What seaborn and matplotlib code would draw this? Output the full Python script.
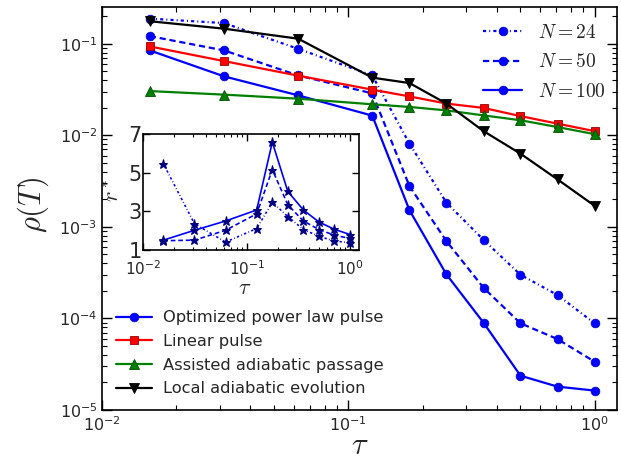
import pandas as pd
import matplotlib
matplotlib.use("Agg")
import matplotlib.pyplot as plt
import seaborn as sns

# ==========================================
# Data
# ==========================================
tau = [0.0156, 0.03125, 0.0625, 0.125, 0.177, 0.25, 0.354, 0.5, 0.707, 1.0]

# main panel: rho(T)
rho_n24 = [0.188, 0.168, 0.088, 0.045, 0.0081, 0.00184, 0.00072, 0.0003, 0.00018, 0.0000885]
rho_n50 = [0.121, 0.0845, 0.045, 0.0287, 0.00278, 0.0007, 0.000216, 0.0000885, 0.0000595, 0.0000337]
rho_n100 = [0.0845, 0.044, 0.0273, 0.0164, 0.00152, 0.000303, 0.0000897, 0.0000237, 0.000018, 0.0000163]
rho_linear = [0.0934, 0.0646, 0.0448, 0.0315, 0.0266, 0.0222, 0.0199, 0.0162, 0.0134, 0.0111]
rho_assisted = [0.0304, 0.0278, 0.0251, 0.0218, 0.0204, 0.0187, 0.0165, 0.0146, 0.0123, 0.0103]
rho_local = [0.176, 0.146, 0.1135, 0.0426, 0.0372, 0.0222, 0.0111, 0.0063, 0.0033, 0.0017]

# inset: r*
r_n24 = [5.47, 2.36, 1.41, 2.11, 3.47, 2.73, 2.06, 1.71, 1.46, 1.38]
r_n50 = [1.48, 1.51, 2.02, 2.87, 5.16, 3.34, 2.50, 2.06, 1.76, 1.60]
r_n100 = [1.51, 2.02, 2.50, 3.07, 6.58, 4.03, 3.07, 2.45, 2.07, 1.80]

n_labels = ["$N=24$", "$N=50$", "$N=100$"]
method_labels = ["Optimized power law pulse", "Linear pulse",
                 "Assisted adiabatic passage", "Local adiabatic evolution"]

# dash patterns (in units of line width)
DASHDOT = (1.4, 1.4, 0.45, 1.4)
DASHED = (2.8, 1.7)

sns.set_style("ticks", {"xtick.direction": "in", "ytick.direction": "in",
                        "axes.edgecolor": "black"})
plt.rcParams["font.family"] = ["DejaVu Sans"]


def style_ticks(ax, size):
    ax.tick_params(which="both", direction="in", top=True, right=True,
                   labelsize=size, color="black")
    ax.tick_params(which="major", length=7, width=1)
    ax.tick_params(which="minor", length=3.5, width=0.8)
    for s in ax.spines.values():
        s.set_linewidth(1.2)
        s.set_color("black")


fig = plt.figure(figsize=(6.21, 4.61), dpi=100)
ax = fig.add_axes([0.1647, 0.1106, 0.8284, 0.8736])

LW = 1.6
# blue family (optimized power law pulse, three sizes)
blue_kw = dict(color="#0000ff", marker="o", markersize=6.3, linewidth=LW,
               markeredgecolor="#0000cc", markeredgewidth=0.5)
sns.lineplot(x=tau, y=rho_n24, ax=ax, **blue_kw)
sns.lineplot(x=tau, y=rho_n50, ax=ax, **blue_kw)
sns.lineplot(x=tau, y=rho_n100, ax=ax, **blue_kw)
sns.lineplot(x=tau, y=rho_linear, ax=ax, color="#ff0000", marker="s", markersize=6,
             linewidth=LW, markeredgecolor="#990000", markeredgewidth=0.6)
sns.lineplot(x=tau, y=rho_assisted, ax=ax, color="#008000", marker="^", markersize=7.5,
             linewidth=LW, markeredgecolor="#004d00", markeredgewidth=0.6)
sns.lineplot(x=tau, y=rho_local, ax=ax, color="black", marker="v", markersize=7.5,
             linewidth=LW, markeredgecolor="black", markeredgewidth=0.6)

lines = ax.get_lines()
lines[0].set_dashes(DASHDOT)
lines[1].set_dashes(DASHED)

ax.set_xscale("log")
ax.set_yscale("log")
ax.set_xlim(0.01, 1.23)
ax.set_ylim(1e-5, 0.25)
style_ticks(ax, 11.5)
ax.set_xlabel(r"$\tau$", fontsize=22, math_fontfamily="cm", labelpad=-2)
ax.set_ylabel(r"$\rho(T)$", fontsize=22, math_fontfamily="cm")
ax.yaxis.set_label_coords(-0.10, 0.51)

leg1 = ax.legend([lines[0], lines[1], lines[2]], n_labels, loc="upper right",
                 bbox_to_anchor=(0.994, 0.981), borderaxespad=0,
                 frameon=False, prop=dict(size=14, math_fontfamily="cm"),
                 labelspacing=0.55, handlelength=2.0)
ax.add_artist(leg1)
ax.legend([lines[2], lines[3], lines[4], lines[5]], method_labels, loc="lower left",
          frameon=False, fontsize=11.7, labelspacing=0.53, handlelength=2.2,
          handletextpad=0.7, borderaxespad=0.45)

# inset
ins = fig.add_axes([0.2308, 0.4577, 0.3478, 0.2516])
star_kw = dict(color="#0000ff", marker="*", markersize=6.5, linewidth=1.2,
               markerfacecolor="#000080", markeredgecolor="#000080")
sns.lineplot(x=tau, y=r_n24, ax=ins, **star_kw)
sns.lineplot(x=tau, y=r_n50, ax=ins, **star_kw)
sns.lineplot(x=tau, y=r_n100, ax=ins, **star_kw)
ilines = ins.get_lines()
ilines[0].set_dashes(DASHDOT)
ilines[1].set_dashes(DASHED)
ins.set_xscale("log")
ins.set_xlim(0.01, 1.23)
ins.set_ylim(1, 7)
ins.set_yticks([1, 3, 5, 7])
style_ticks(ins, 11)
ins.tick_params(which="major", length=5)
ins.tick_params(which="minor", length=2.5)
ins.tick_params(axis="y", labelsize=15, pad=1)
ins.tick_params(axis="x", pad=7)
ins.set_xlabel(r"$\tau$", fontsize=16, math_fontfamily="cm")
ins.xaxis.set_label_coords(0.47, -0.24)
ins.set_ylabel(r"$r^*$", fontsize=16, math_fontfamily="cm")
ins.yaxis.set_label_coords(-0.095, 0.51)

fig.savefig("out.png", dpi=100)
